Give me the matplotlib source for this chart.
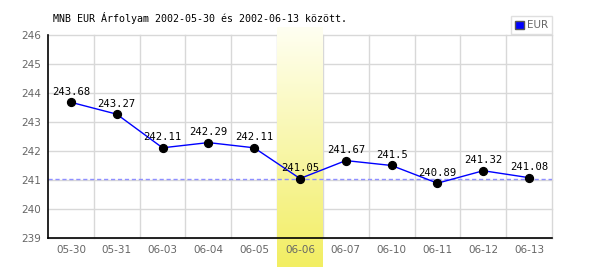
import numpy as np
import matplotlib.pyplot as plt
from matplotlib.colors import LinearSegmentedColormap

# data
dates = ['05-30', '05-31', '06-03', '06-04', '06-05', '06-06',
         '06-07', '06-10', '06-11', '06-12', '06-13']
eur = [243.68, 243.27, 242.11, 242.29, 242.11, 241.05,
       241.67, 241.5, 240.89, 241.32, 241.08]
highlight = 5
ref_value = 241.05
title = 'MNB EUR Árfolyam 2002-05-30 és 2002-06-13 között.'

fig = plt.figure(figsize=(6, 2.7), dpi=100)
ax = fig.add_axes([48/600, 1-238/270, 504/600, 203/270])

n = len(dates)
x = np.arange(n)
ax.set_xlim(-0.5, n - 0.5)
ax.set_ylim(239, 246)

# grid
for yv in range(239, 247):
    ax.axhline(yv, color='#d8d8d8', lw=1, zorder=0, clip_on=False)
for xv in np.arange(0.5, n + 0.5, 1):
    ax.axvline(xv, color='#d8d8d8', lw=1, zorder=0, clip_on=False)

# highlighted day, gradient column that spills out of the axes
cmap = LinearSegmentedColormap.from_list('hl', ['#f2ee62', '#fffff2'])
grad = np.linspace(0, 1, 256).reshape(-1, 1)
y_per_px = 7 / 203
ax.imshow(grad, cmap=cmap, aspect='auto', origin='lower',
          extent=[highlight - 0.5, highlight + 0.5,
                  239 - 29 * y_per_px, 246 + 8 * y_per_px],
          zorder=1, clip_on=False)

ax.axhline(ref_value, color='#8f8fff', lw=1, ls=(0, (3, 2)), zorder=2)
ax.plot(x, eur, color='#0000ff', lw=1, zorder=3)
ax.scatter(x, eur, s=32, color='black', zorder=4)
for xi, v in zip(x, eur):
    ax.annotate(f'{v:g}', (xi, v), xytext=(0, 4), textcoords='offset points',
                ha='center', va='bottom', fontsize=7.6,
                family='DejaVu Sans Mono', color='black', zorder=5)

for s in ['top', 'right']:
    ax.spines[s].set_visible(False)
for s in ['left', 'bottom']:
    ax.spines[s].set_color('black')
    ax.spines[s].set_linewidth(1.2)
    ax.spines[s].set_zorder(6)

ax.set_xticks(x)
ax.set_xticklabels(dates)
ax.set_yticks(range(239, 247))
ax.tick_params(length=0, labelsize=7.5, labelcolor='#666666', pad=5)

fig.text(53/600, 1-18/270, title, fontsize=7.2, family='DejaVu Sans Mono',
         va='center', ha='left', color='black')

# legend box
leg = ax.legend([plt.Rectangle((0, 0), 1, 1, fc='#0000ff', ec='#555555')], ['EUR'],
                loc='upper right', bbox_to_anchor=(552/600, 1-16/270),
                bbox_transform=fig.transFigure, fontsize=7.5, frameon=True,
                fancybox=False, handlelength=0.8, handleheight=0.8,
                handletextpad=0.3, borderpad=0.4, borderaxespad=0)
leg.get_frame().set_edgecolor('#d8d8d8')
leg.get_frame().set_linewidth(1)
for t in leg.get_texts():
    t.set_color('#666666')
leg.set_zorder(10)

fig.savefig('out.png', dpi=100)
